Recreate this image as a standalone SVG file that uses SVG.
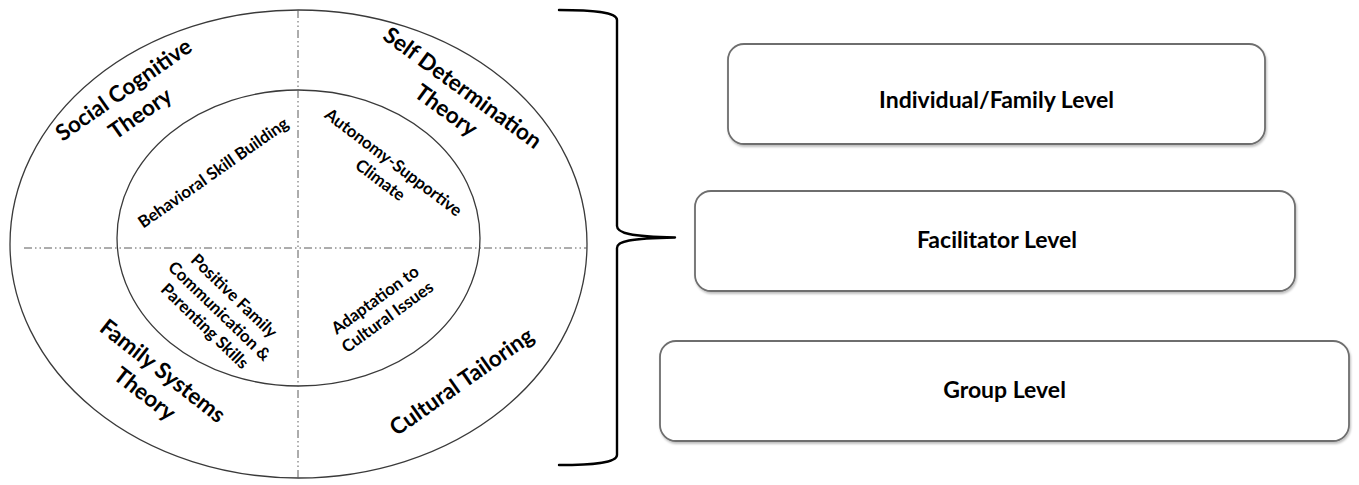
<svg xmlns="http://www.w3.org/2000/svg" width="1359" height="485" viewBox="0 0 1359 485">
  <defs>
    <filter id="shadow" x="-5%" y="-10%" width="110%" height="130%">
      <feDropShadow dx="1" dy="2" stdDeviation="1.2" flood-color="#000" flood-opacity="0.25"/>
    </filter>
  </defs>
  <style>
    .ring { fill: none; stroke: #3a3a3a; stroke-width: 1.3; }
    .axis { fill: none; stroke: #5a5a5a; stroke-width: 1; stroke-dasharray: 8 3 1.5 3 1.5 3; }
    .box { fill: #fff; stroke: #6e6e6e; stroke-width: 1.8; }
    .brace { fill: none; stroke: #000; stroke-width: 2.4; stroke-linejoin: round; stroke-linecap: round; }
    text { font-family: Lato, "Liberation Sans", sans-serif; font-weight: 700; fill: #000; text-anchor: middle; }
    .big { font-size: 22.5px; }
    .small { font-size: 16.8px; }
    .lvl { font-size: 23px; }
  </style>
  <rect width="1359" height="485" fill="#fff"/>

  <g id="outer-ring">
    <ellipse class="ring" cx="298.5" cy="244" rx="288.5" ry="234"/>
  </g>
  <g id="inner-ring">
    <ellipse class="ring" cx="298.5" cy="238" rx="181.5" ry="148"/>
  </g>
  <g id="axes">
    <line class="axis" x1="298" y1="10" x2="298" y2="478"/>
    <line class="axis" x1="24" y1="248" x2="587" y2="248"/>
  </g>

  <g id="social-cognitive-theory">
    <g transform="translate(128,96) rotate(-35)">
      <text class="big" x="0" y="0">Social Cognitive</text>
      <text class="big" x="0" y="29">Theory</text>
    </g>
  </g>
  <g id="self-determination-theory">
    <g transform="translate(458,94) rotate(36)">
      <text class="big" x="0" y="0">Self Determination</text>
      <text class="big" x="0" y="28">Theory</text>
    </g>
  </g>
  <g id="family-systems-theory">
    <g transform="translate(158,377) rotate(38)">
      <text class="big" x="0" y="0">Family Systems</text>
      <text class="big" x="0" y="29">Theory</text>
    </g>
  </g>
  <g id="cultural-tailoring">
    <g transform="translate(466,388) rotate(-35)">
      <text class="big" x="0" y="0">Cultural Tailoring</text>
    </g>
  </g>

  <g id="behavioral-skill-building">
    <g transform="translate(216.5,177.5) rotate(-35)">
      <text class="small" x="0" y="0">Behavioral Skill Building</text>
    </g>
  </g>
  <g id="autonomy-supportive-climate">
    <g transform="translate(390,167) rotate(37)">
      <text class="small" x="0" y="0">Autonomy-Supportive</text>
      <text class="small" x="0" y="22">Climate</text>
    </g>
  </g>
  <g id="positive-family-communication">
    <g transform="translate(230,300) rotate(44)">
      <text class="small" x="0" y="0">Positive Family</text>
      <text class="small" x="0" y="21">Communication &amp;</text>
      <text class="small" x="0" y="42">Parenting Skills</text>
    </g>
  </g>
  <g id="adaptation-cultural-issues">
    <g transform="translate(378.5,304.5) rotate(-36)">
      <text class="small" x="0" y="0">Adaptation to</text>
      <text class="small" x="0" y="21">Cultural Issues</text>
    </g>
  </g>

  <g id="connectors">
    <path class="brace" d="M559,10 C592,10 617,12 617,20 L617,226 C617,233 630,236.5 675,237.5 C630,238.5 617,241 617,248 L617,455 C617,463 592,465 559,465"/>
  </g>

  <g id="individual-family-level">
    <rect class="box" filter="url(#shadow)" x="728" y="44" width="537" height="100" rx="16"/>
    <text class="lvl" x="996.5" y="108">Individual/Family Level</text>
  </g>
  <g id="facilitator-level">
    <rect class="box" filter="url(#shadow)" x="695" y="191" width="600" height="100" rx="16"/>
    <text class="lvl" x="997" y="248">Facilitator Level</text>
  </g>
  <g id="group-level">
    <rect class="box" filter="url(#shadow)" x="660" y="341" width="689" height="100" rx="16"/>
    <text class="lvl" x="1004.5" y="398">Group Level</text>
  </g>
</svg>
